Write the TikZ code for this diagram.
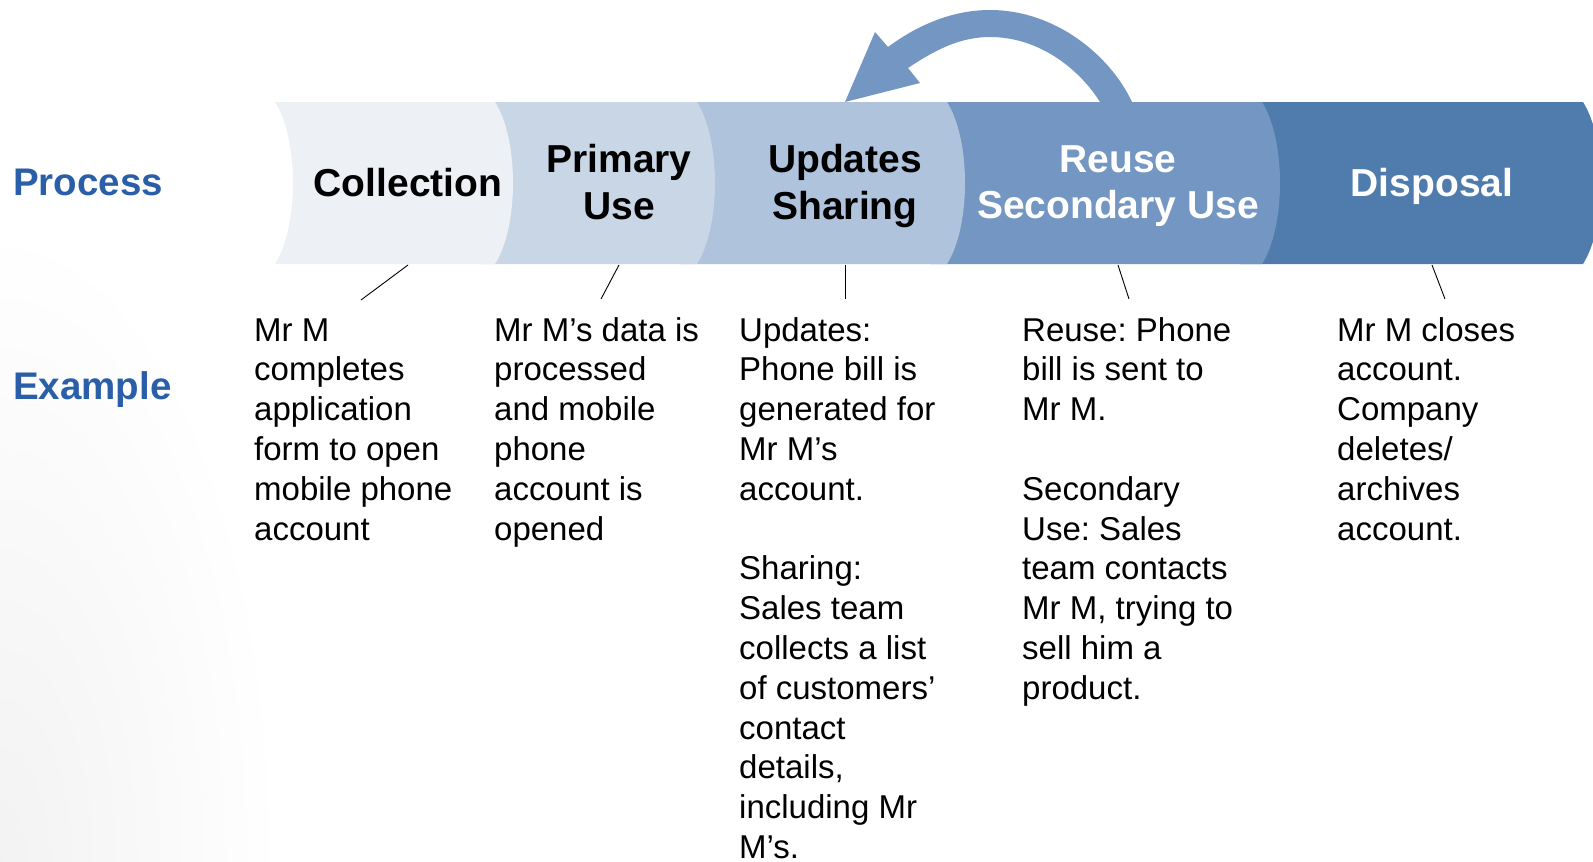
\documentclass[tikz,border=0pt]{standalone}
\usepackage{fontspec}
\setmainfont{Liberation Sans}
\frenchspacing
\definecolor{cA}{HTML}{EDF0F5}
\definecolor{cB}{HTML}{C9D6E6}
\definecolor{cC}{HTML}{AFC3DC}
\definecolor{cD}{HTML}{7396C2}
\definecolor{cE}{HTML}{4F7BAD}
\definecolor{lblue}{HTML}{2A5EA8}
\begin{document}
\begin{tikzpicture}[x=1pt,y=-1pt,
  head/.style={font=\fontsize{39}{46.5}\selectfont\bfseries, align=center, inner sep=0pt},
  body/.style={font=\fontsize{33}{39.8}\selectfont, align=left, anchor=north west, inner sep=0pt},
  side/.style={font=\fontsize{38.5}{46}\selectfont\bfseries, text=lblue, anchor=base west, inner sep=0pt},
  ptr/.style={draw=black, line width=0.9pt}]
\useasboundingbox (0,0) rectangle (1593,862);
\begin{scope}
\clip (0,0) rectangle (1593,862);
\shade[inner color=black!5, outer color=white] (0,862) ellipse [x radius=280, y radius=640];
% segments (drawn right to left)
\fill[cE] (1240,102) -- (1583,102) .. controls (1607,140) and (1607,226) .. (1583,264) -- (1240,264) -- cycle;
\fill[cD] (930,102) -- (1262,102) .. controls (1286,140) and (1286,226) .. (1262,264) -- (930,264) -- cycle;
\fill[cC] (680,102) -- (947,102) .. controls (971,140) and (971,226) .. (947,264) -- (680,264) -- cycle;
\fill[cB] (480,102) -- (697,102) .. controls (721,140) and (721,226) .. (697,264) -- (480,264) -- cycle;
\fill[cA] (275,102) -- (495,102) .. controls (519,140) and (519,226) .. (495,264) -- (275,264) .. controls (299,226) and (299,140) .. (275,102) -- cycle;
% curved arrow
\fill[cD] (1132,102) .. controls (1110,55) and (1055,10) .. (990,10)
  .. controls (950,10) and (915,27) .. (888,47) -- (875,32) -- (845,102) -- (920,83) -- (908,68)
  .. controls (935,50) and (960,37) .. (990,37)
  .. controls (1040,37) and (1080,70) .. (1100,102) -- cycle;
\end{scope}
% side labels
\node[side] (process) at (13,195) {Process};
\node[side] (example) at (13,399) {Example};
% headers
\node[head, anchor=base] (h1) at (408,196) {Collection};
\node[head] (h2) at (619,182) {Primary\\Use};
\node[head] (h3) at (845,186) {Updates\\Sharing};
\node[head, text=white] (h4) at (1118,186) {Reuse\\Secondary Use};
\node[head, text=white, anchor=base] (h5) at (1432,196) {Disposal};
% body texts
\node[body] (b1) at (254,313) {\strut Mr M\\completes\\application\\form to open\\mobile phone\\account};
\node[body] (b2) at (494,313) {\strut Mr M’s data is\\processed\\and mobile\\phone\\account is\\opened};
\node[body] (b3) at (739,313) {\strut Updates:\\Phone bill is\\generated for\\Mr M’s\\account.\\\strut\\Sharing:\\Sales team\\collects a list\\of customers’\\contact\\details,\\including Mr\\M’s.};
\node[body] (b4) at (1022,313) {\strut Reuse: Phone\\bill is sent to\\Mr M.\\\strut\\Secondary\\Use: Sales\\team contacts\\Mr M, trying to\\sell him a\\product.};
\node[body] (b5) at (1337,313) {\strut Mr M closes\\account.\\Company\\deletes/\\archives\\account.};
% pointer lines
\coordinate (p1a) at (408,265); \coordinate (p1b) at (361,300);
\coordinate (p2a) at (619,265); \coordinate (p2b) at (601,299);
\coordinate (p3a) at (845,265); \coordinate (p3b) at (845,299);
\coordinate (p4a) at (1118,265); \coordinate (p4b) at (1129,299);
\coordinate (p5a) at (1432,265); \coordinate (p5b) at (1445,299);
\draw[ptr] (p1a) -- (p1b);
\draw[ptr] (p2a) -- (p2b);
\draw[ptr] (p3a) -- (p3b);
\draw[ptr] (p4a) -- (p4b);
\draw[ptr] (p5a) -- (p5b);
\end{tikzpicture}
\end{document}
